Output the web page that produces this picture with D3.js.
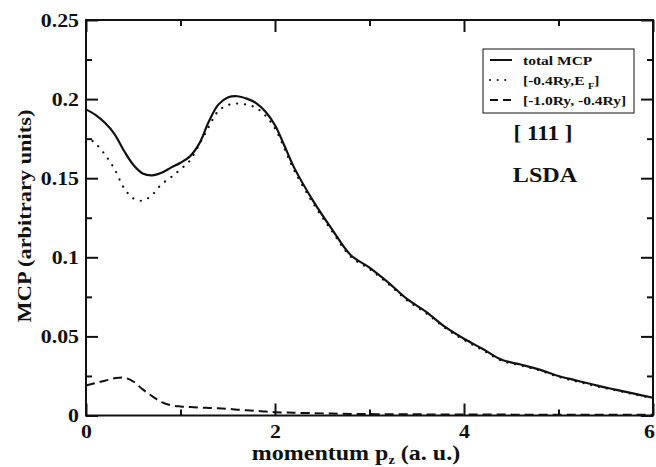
<!DOCTYPE html>
<html><head><meta charset="utf-8">
<script src="https://cdn.jsdelivr.net/npm/d3@7"></script>
<style>body{margin:0;background:#fff}svg{display:block}text{font-family:"Liberation Serif","Times New Roman",serif;font-weight:bold;fill:#111}</style>
</head><body><div id="c"></div>
<script>
const pz = [0,0.1,0.2,0.3,0.4,0.5,0.6,0.7,0.8,0.9,1.0,1.1,1.2,1.3,1.4,1.5,1.6,1.7,1.8,1.9,2.0,2.1,2.2,
            2.4,2.6,2.8,3.0,3.2,3.4,3.6,3.8,4.0,4.2,4.4,4.6,4.8,5.0,5.2,5.4,5.6,5.8,6.0];
const totalMCP = [0.1935,0.190,0.185,0.178,0.1675,0.1585,0.153,0.1518,0.1535,0.1567,0.1598,0.1638,0.172,0.1858,0.1965,0.201,0.2018,0.2003,0.1975,0.192,0.1835,0.1705,0.157,
                  0.136,0.118,0.1015,0.0935,0.084,0.0735,0.0655,0.056,0.0485,0.042,0.0352,0.0322,0.029,0.025,0.022,0.019,0.0164,0.0138,0.0112];
const valenceBand = [0.1765,0.172,0.165,0.156,0.144,0.1373,0.1358,0.1395,0.1462,0.1507,0.1556,0.1612,0.1715,0.1825,0.1925,0.1962,0.1972,0.1965,0.1945,0.1895,0.1815,0.1688,0.1553,
                     0.1345,0.1168,0.1005,0.0926,0.0832,0.0727,0.0647,0.0553,0.0478,0.0413,0.0346,0.0316,0.0285,0.0244,0.0214,0.0185,0.016,0.0134,0.0108];
const lowBand = [0.019,0.0205,0.022,0.0235,0.024,0.0215,0.0165,0.0122,0.0085,0.0065,0.0057,0.0053,0.005,0.0048,0.0046,0.0042,0.0037,0.0033,0.0029,0.0025,0.0021,0.0019,0.0017,
                 0.0015,0.0012,0.001,0.0009,0.0008,0.0008,0.0007,0.0007,0.0006,0.0006,0.0006,0.0005,0.0005,0.0005,0.0005,0.0005,0.0005,0.0005,0.0005];
const xMajor = [0,2,4,6], xMinor = [1,3,5];
const yMajor = [0,0.05,0.1,0.15,0.2,0.25], yMinor = [0.025,0.075,0.125,0.175,0.225];
const yLabels = ["0","0.05","0.1","0.15","0.2","0.25"];
const legendLabels = ["total MCP","[-0.4Ry,E","[-1.0Ry, -0.4Ry]"];

const W=656,H=467, L=86,R=653,T=20,B=415.5, SX=1.15;
const svg=d3.select("#c").append("svg").attr("width",W).attr("height",H);
svg.append("rect").attr("width",W).attr("height",H).attr("fill","#fff");
const x=d3.scaleLinear().domain([0,6]).range([L,R]);
const y=d3.scaleLinear().domain([0,0.25]).range([B,T]);

function stretchTicks(g,shiftLast){
  const n=g.selectAll(".tick text").size();
  g.selectAll(".tick text").each(function(d,i){
    const t=d3.select(this); let tx=+t.attr("x")||0; const ty=+t.attr("y")||0;
    if(shiftLast && i===n-1) tx-=4;
    t.attr("x",0).attr("y",0).attr("transform",`translate(${tx},${ty}) scale(${SX},1)`);
  });
}
function styleAxis(g){ g.select(".domain").remove(); g.selectAll(".tick line").attr("stroke","#111").attr("stroke-width",2); g.selectAll(".tick text").attr("font-size",19).attr("fill","#111"); }

let g=svg.append("g").attr("transform",`translate(${L},0)`).call(d3.axisLeft(y).tickValues(yMajor).tickSize(-12).tickPadding(7).tickFormat((d,i)=>yLabels[i]));
styleAxis(g); stretchTicks(g,false);
g=svg.append("g").attr("transform",`translate(${L},0)`).call(d3.axisLeft(y).tickValues(yMinor).tickSize(-6).tickFormat(""));styleAxis(g);
g=svg.append("g").attr("transform",`translate(${R},0)`).call(d3.axisRight(y).tickValues(yMajor).tickSize(-12).tickFormat(""));styleAxis(g);
g=svg.append("g").attr("transform",`translate(${R},0)`).call(d3.axisRight(y).tickValues(yMinor).tickSize(-6).tickFormat(""));styleAxis(g);
g=svg.append("g").attr("transform",`translate(0,${B})`).call(d3.axisBottom(x).tickValues(xMajor).tickSize(-12).tickPadding(9).tickFormat(d3.format("d")));
styleAxis(g); stretchTicks(g,true);
g=svg.append("g").attr("transform",`translate(0,${T})`).call(d3.axisTop(x).tickValues(xMajor).tickSize(-12).tickFormat(""));styleAxis(g);
g=svg.append("g").attr("transform",`translate(0,${B})`).call(d3.axisBottom(x).tickValues(xMinor).tickSize(-6).tickFormat(""));styleAxis(g);
g=svg.append("g").attr("transform",`translate(0,${T})`).call(d3.axisTop(x).tickValues(xMinor).tickSize(-6).tickFormat(""));styleAxis(g);

svg.append("rect").attr("x",L).attr("y",T).attr("width",R-L).attr("height",B-T).attr("fill","none").attr("stroke","#111").attr("stroke-width",2);

const line=(arr)=>d3.line().x((d,i)=>x(pz[i])).y(d=>y(d)).curve(d3.curveCatmullRom.alpha(0.5))(arr);
svg.append("path").attr("d",line(valenceBand)).attr("fill","none").attr("stroke","#111").attr("stroke-width",2.2).attr("stroke-dasharray","0.1,7.8").attr("stroke-linecap","round");
svg.append("path").attr("d",line(lowBand)).attr("fill","none").attr("stroke","#111").attr("stroke-width",2).attr("stroke-dasharray","9,5");
svg.append("path").attr("d",line(totalMCP)).attr("fill","none").attr("stroke","#111").attr("stroke-width",2.2);

const lg=svg.append("g");
lg.append("rect").attr("x",483).attr("y",49).attr("width",151).attr("height",64).attr("fill","#fff").attr("stroke","#111").attr("stroke-width",1);
const ly=[60,80,100], dashes=[null,"0.1,7.5","8,5"];
ly.forEach((yy,i)=>{
  lg.append("line").attr("x1",490).attr("x2",512).attr("y1",yy).attr("y2",yy).attr("stroke","#111").attr("stroke-width",2).attr("stroke-linecap",i==1?"round":"butt").attr("stroke-dasharray",dashes[i]);
  const t=lg.append("text").attr("transform",`translate(523,${yy+4.5}) scale(${SX},1)`).attr("font-size",13.5).text(legendLabels[i]);
  if(i==1){ t.append("tspan").attr("dx",3).attr("dy",4).attr("font-size",9).text("F"); t.append("tspan").attr("dy",-4).text("]"); }
});

svg.append("text").attr("transform",`translate(543,140) scale(1.1,1)`).attr("text-anchor","middle").attr("font-size",21).text("[ 111 ]");
svg.append("text").attr("transform",`translate(545,182) scale(${SX},1)`).attr("text-anchor","middle").attr("font-size",21).text("LSDA");

const xt=svg.append("text").attr("transform",`translate(356,460) scale(1.2,1)`).attr("text-anchor","middle").attr("font-size",20).text("momentum p");
xt.append("tspan").attr("dy",4).attr("font-size",12).text("z");
xt.append("tspan").attr("dy",-4).text(" (a. u.)");
svg.append("text").attr("transform",`translate(31,216) rotate(-90) scale(${SX},1)`).attr("text-anchor","middle").attr("font-size",19.5).text("MCP (arbitrary units)");
</script></body></html>
